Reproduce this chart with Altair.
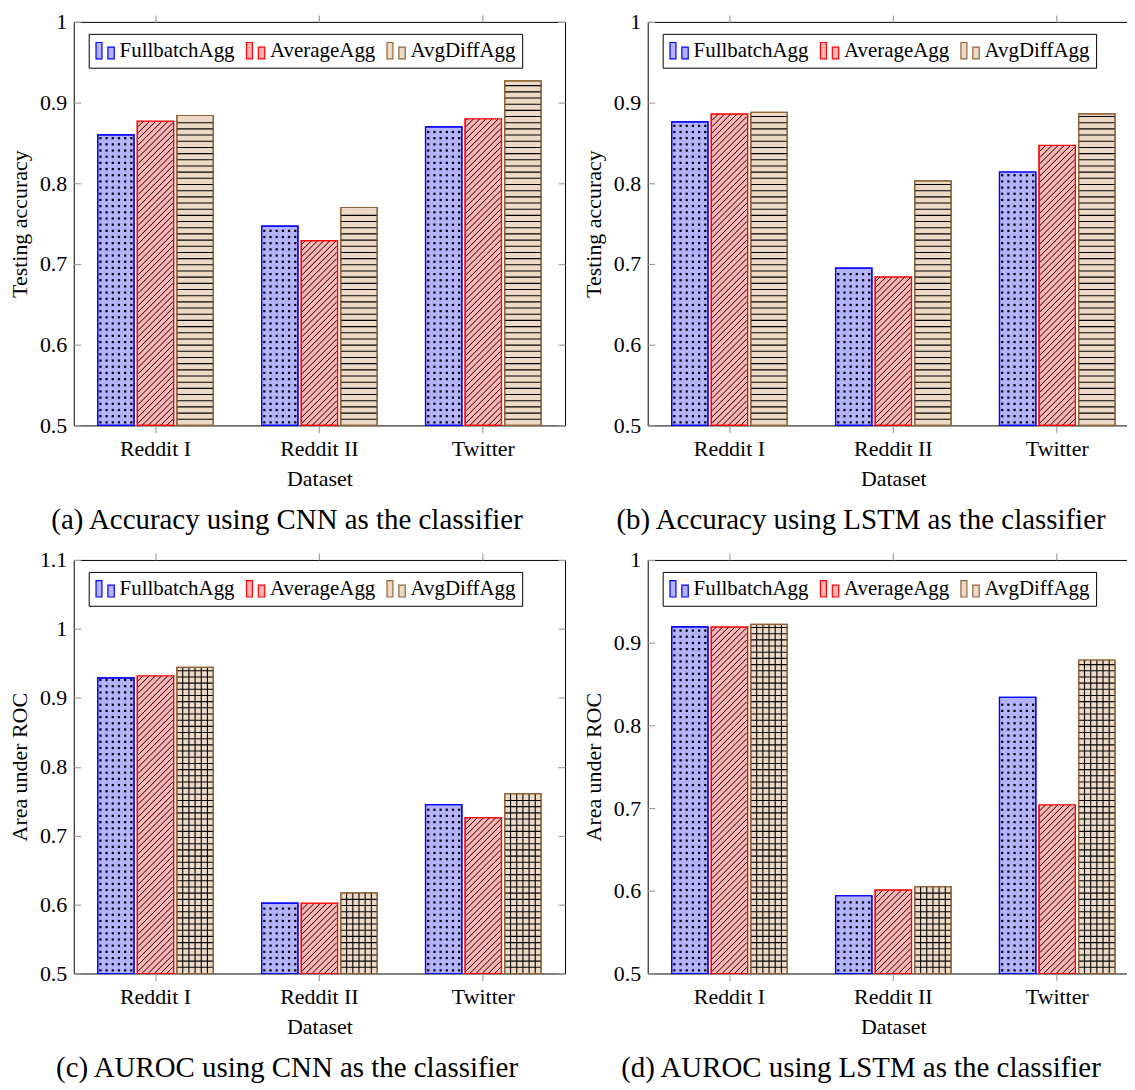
import altair as alt
import pandas as pd

# ---------------- data ----------------
datasets = ["Reddit I", "Reddit II", "Twitter"]
methods = ["FullbatchAgg", "AverageAgg", "AvgDiffAgg"]

acc_cnn_full = [0.860, 0.747, 0.870]
acc_cnn_avg = [0.877, 0.729, 0.880]
acc_cnn_diff = [0.884, 0.770, 0.927]

acc_lstm_full = [0.876, 0.695, 0.814]
acc_lstm_avg = [0.886, 0.684, 0.847]
acc_lstm_diff = [0.888, 0.803, 0.886]

auc_cnn_full = [0.929, 0.602, 0.745]
auc_cnn_avg = [0.932, 0.602, 0.726]
auc_cnn_diff = [0.944, 0.617, 0.761]

auc_lstm_full = [0.919, 0.594, 0.834]
auc_lstm_avg = [0.919, 0.601, 0.704]
auc_lstm_diff = [0.922, 0.605, 0.879]

acc_ticks = [0.5, 0.6, 0.7, 0.8, 0.9, 1.0]
auc_cnn_ticks = [0.5, 0.6, 0.7, 0.8, 0.9, 1.0, 1.1]

fill_colors = ["#b3b3ff", "#ffb3b3", "#ecd9c6"]
stroke_colors = ["#0000ff", "#ff0000", "#8f6438"]

# ---------------- style / layout ----------------
FONT = "Liberation Serif, Times New Roman, serif"
TICK = "#a0a0a0"
PW = 493
PAD_IN = 0.295
PAD_OUT = 0.146
OFF_PAD = 0.082
PITCH = 6.2

step = PW / (3 - PAD_IN + 2 * PAD_OUT)
bw = step * (1 - PAD_IN)
sub_step = bw / (3 - OFF_PAD)
bar_w = sub_step * (1 - OFF_PAD)
centers = [-sub_step, 0.0, sub_step]

dot_cols = [-15.5, -9.3, -3.1, 3.1, 9.3, 15.5]
grid_cols = [-12.4, -6.2, 0.0, 6.2, 12.4]

SYM = "M-1,-0.9H-0.35V0.9H-1Z M0.3,-0.4H1V0.9H0.3Z"


def panel(full, avg, diff, ticks, ytitle, caption, height, grid, cap_offset):
    rows = []
    for m, vals in zip(methods, [full, avg, diff]):
        for d, v in zip(datasets, vals):
            rows.append({"dataset": d, "method": m, "value": v})
    df = pd.DataFrame(rows)
    ymin, ymax = ticks[0], ticks[-1]
    ppu = height / (ymax - ymin)
    dy = PITCH / ppu
    dd = (bar_w - 1.6) / ppu

    base = alt.Chart(df)
    xsc = alt.Scale(domain=datasets, paddingInner=PAD_IN, paddingOuter=PAD_OUT, align=0.5)
    ysc = alt.Scale(domain=[ymin, ymax], nice=False, zero=False)
    osc = alt.Scale(domain=methods, paddingInner=OFF_PAD, paddingOuter=0)

    bottom_axis = alt.Axis(title="Dataset", orient="bottom", labelAngle=0, tickSize=7,
                           tickColor=TICK, tickWidth=1.2, domain=False, labelPadding=6,
                           titlePadding=9)
    left_axis = alt.Axis(title=ytitle, orient="left", values=ticks, format="~g",
                         tickSize=7, offset=-7, tickColor=TICK, tickWidth=1.2,
                         domain=False, grid=False, labelPadding=7, titlePadding=8)
    top_axis = alt.Axis(title=None, orient="top", labels=False, tickSize=7,
                        tickColor=TICK, tickWidth=1.2, domain=False)
    right_axis = alt.Axis(title=None, orient="right", values=ticks, labels=False,
                          tickSize=7, offset=-7, tickColor=TICK, tickWidth=1.2,
                          domain=False, grid=False)

    leg = alt.Legend(title=None, orient="none", legendX=15, legendY=12,
                     direction="horizontal", symbolType=SYM, symbolSize=335,
                     symbolStrokeWidth=1.2, labelFont=FONT, labelFontSize=21,
                     labelColor="black", strokeColor="black", fillColor="white",
                     padding=6, labelOffset=4, columnPadding=8)

    fill_sc = alt.Scale(domain=methods, range=fill_colors)
    stroke_sc = alt.Scale(domain=methods, range=stroke_colors)

    x_none = alt.X("dataset:N", scale=xsc, axis=None)

    bars = base.mark_bar(strokeWidth=1.2).encode(
        x=alt.X("dataset:N", scale=xsc, axis=bottom_axis),
        xOffset=alt.XOffset("method:N", scale=osc),
        y=alt.Y("value:Q", scale=ysc, axis=left_axis),
        y2=alt.datum(ymin),
        fill=alt.Fill("method:N", scale=fill_sc, legend=leg),
        stroke=alt.Stroke("method:N", scale=stroke_sc, legend=leg),
    )

    layers = [bars]

    # dots pattern (FullbatchAgg)
    dots_src = (base.transform_filter(alt.datum.method == methods[0])
                .transform_calculate(r=f"sequence({ymin + dy * 0.5}, datum.value - {dy * 0.3}, {dy})")
                .transform_flatten(["r"]))
    for off in dot_cols:
        layers.append(dots_src.mark_square(size=5, color="black", opacity=1,
                                           xOffset=centers[0] + off).encode(
            x=x_none, y=alt.Y("r:Q", scale=ysc, axis=None)))

    # horizontal lines (AvgDiffAgg)
    hl_src = (base.transform_filter(alt.datum.method == methods[2])
              .transform_calculate(r=f"sequence({ymin + dy}, datum.value - {dy * 0.4}, {dy})")
              .transform_flatten(["r"]))
    layers.append(hl_src.mark_tick(color="black", thickness=1.1, size=bar_w,
                                   xOffset=centers[2], opacity=1).encode(
        x=x_none, y=alt.Y("r:Q", scale=ysc, axis=None)))

    # vertical lines for grid pattern
    if grid:
        vl_src = base.transform_filter(alt.datum.method == methods[2])
        for off in grid_cols:
            layers.append(vl_src.mark_rule(color="black", strokeWidth=1.1,
                                           xOffset=centers[2] + off).encode(
                x=x_none, y=alt.Y("value:Q", scale=ysc, axis=None), y2=alt.datum(ymin)))

    # north east lines (AverageAgg)
    dg_src = (base.transform_filter(alt.datum.method == methods[1])
              .transform_calculate(r=f"sequence({ymin - dd}, datum.value, {dy})")
              .transform_flatten(["r"])
              .transform_calculate(r2=f"datum.r + {dd}"))
    layers.append(dg_src.mark_rule(color="black", strokeWidth=1.0, clip=True,
                                   xOffset=-bar_w / 2 + 0.8, x2Offset=bar_w / 2 - 0.8).encode(
        x=alt.X("dataset:N", scale=xsc, axis=None, bandPosition=0.5),
        x2=alt.X2("dataset", bandPosition=0.5),
        y=alt.Y("r:Q", scale=ysc, axis=None), y2="r2:Q"))

    # white cover above the hatched bars (clips the hatch lines)
    layers.append(base.transform_filter(alt.datum.method == methods[1])
                  .mark_bar(fill="white", strokeWidth=0).encode(
        x=alt.X("dataset:N", scale=xsc, axis=top_axis),
        xOffset=alt.XOffset("method:N", scale=osc),
        y=alt.Y("value:Q", scale=ysc, axis=right_axis),
        y2=alt.datum(ymax - 1.5 / ppu)))

    # outlines on top
    layers.append(base.mark_bar(fillOpacity=0, strokeWidth=1.2).encode(
        x=x_none,
        xOffset=alt.XOffset("method:N", scale=osc),
        y=alt.Y("value:Q", scale=ysc, axis=None),
        y2=alt.datum(ymin),
        stroke=alt.Stroke("method:N", scale=stroke_sc, legend=None)))

    return alt.layer(*layers).resolve_axis(x="independent", y="independent").properties(
        width=PW, height=height,
        title=alt.TitleParams(caption, orient="bottom", anchor="middle", frame="bounds",
                              offset=cap_offset, font=FONT, fontSize=29, fontWeight="normal",
                              color="black"))


pa = panel(acc_cnn_full, acc_cnn_avg, acc_cnn_diff, acc_ticks, "Testing accuracy",
           "(a) Accuracy using CNN as the classifier", 405, False, 17)
pb = panel(acc_lstm_full, acc_lstm_avg, acc_lstm_diff, acc_ticks, "Testing accuracy",
           "(b) Accuracy using LSTM as the classifier", 405, False, 17)
pc = panel(auc_cnn_full, auc_cnn_avg, auc_cnn_diff, auc_cnn_ticks, "Area under ROC",
           "(c) AUROC using CNN as the classifier", 415, True, 17)
pd_ = panel(auc_lstm_full, auc_lstm_avg, auc_lstm_diff, acc_ticks, "Area under ROC",
            "(d) AUROC using LSTM as the classifier", 415, True, 17)

ind = dict(fill="independent", stroke="independent")
row1 = alt.hconcat(pa, pb, spacing=15).resolve_scale(**ind).resolve_legend(**ind)
row2 = alt.hconcat(pc, pd_, spacing=15).resolve_scale(**ind).resolve_legend(**ind)

chart = (alt.vconcat(row1, row2, spacing=12)
         .resolve_scale(**ind).resolve_legend(**ind)
         .configure_view(stroke="black", strokeWidth=1)
         .configure_axis(labelFont=FONT, titleFont=FONT, labelFontSize=22, titleFontSize=22,
                         titleFontWeight="normal", labelColor="black", titleColor="black")
         .properties(background="white",
                     padding={"left": 0, "top": 0, "right": -14, "bottom": 0}))

chart.save("out.html", embed_options={"renderer": "svg", "actions": False})
